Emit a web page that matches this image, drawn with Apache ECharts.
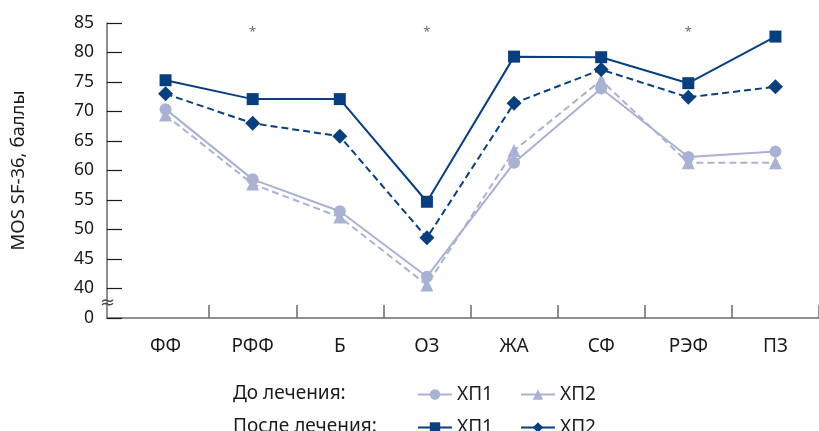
<!DOCTYPE html>
<html>
<head>
<meta charset="utf-8">
<script src="https://cdn.jsdelivr.net/npm/echarts@6/dist/echarts.min.js"></script>
<style>
html,body{margin:0;padding:0;background:#fff;}
#chart{width:819px;height:431px;}
</style>
</head>
<body>
<div id="chart"></div>
<script>
// Categories (SF-36 scales)
var categories = ['ФФ', 'РФФ', 'Б', 'ОЗ', 'ЖА', 'СФ', 'РЭФ', 'ПЗ'];
// Before treatment
var beforeHP1 = [70.4, 58.5, 53.1, 42.0, 61.3, 73.9, 62.3, 63.2];
var beforeHP2 = [69.4, 57.7, 52.1, 40.6, 63.4, 75.3, 61.3, 61.3];
// After treatment
var afterHP1 = [75.3, 72.1, 72.1, 54.7, 79.3, 79.2, 74.8, 82.7];
var afterHP2 = [73.0, 68.0, 65.8, 48.6, 71.4, 77.1, 72.4, 74.2];
// Significance markers
var significance = ['', '*', '', '*', '', '', '*', ''];
// Y tick labels (broken axis: 0, then 40..85)
var yTickLabels = ['0', '40', '45', '50', '55', '60', '65', '70', '75', '80', '85'];
var breakOffset = 35; // values >= 40 are shown shifted down by 35 (axis break)
var starLevel = 83.4;

function toAxis(arr) { return arr.map(function (v) { return v - breakOffset; }); }

var DARK = '#0a3f7f';
var LIGHT = '#aab2d4';
var AXIS = '#6b6b6b';
var TXT = '#1a1a1a';
var FONT = 'Noto Sans';

var chart = echarts.init(document.getElementById('chart'), null, {renderer: 'canvas'});

var starData = significance.map(function (s, i) { return s ? starLevel - breakOffset : null; });

var option = {
  animation: false,
  backgroundColor: '#fff',
  textStyle: {fontFamily: FONT},
  title: [
    {text: 'До лечения:', left: 233, top: 384, textStyle: {fontFamily: FONT, fontSize: 19, fontWeight: 'normal', color: TXT}, padding: 0},
    {text: 'После лечения:', left: 233, top: 417, textStyle: {fontFamily: FONT, fontSize: 19, fontWeight: 'normal', color: TXT}, padding: 0}
  ],
  grid: [
    {left: 107, right: 0, top: 23, bottom: 113},
    {left: 122, right: -12, top: 23, bottom: 113}
  ],
  xAxis: [
    {
      type: 'value', gridIndex: 0, min: 0, max: 1,
      axisLine: {show: true, lineStyle: {color: AXIS, width: 1.5}},
      axisTick: {show: false}, axisLabel: {show: false}, splitLine: {show: false}
    },
    {
      type: 'category', gridIndex: 1, data: categories, boundaryGap: true,
      axisLine: {show: false},
      axisTick: {
        show: true, inside: true, length: 13,
        lineStyle: {color: AXIS, width: 1.5},
        interval: function (index) { return index !== 0; }
      },
      axisLabel: {color: TXT, fontSize: 19, fontFamily: FONT, margin: 19},
      splitLine: {show: false}
    }
  ],
  yAxis: [
    {
      type: 'value', gridIndex: 0, min: 0, max: 50, interval: 5,
      name: 'MOS SF-36, баллы', nameLocation: 'middle', nameGap: 79,
      nameTextStyle: {color: TXT, fontSize: 18.5, fontFamily: FONT},
      axisLine: {show: true, lineStyle: {color: AXIS, width: 1.5}},
      axisTick: {
        show: true, inside: true, length: 15,
        lineStyle: {color: TXT, width: 1.2},
        interval: 0
      },
      axisLabel: {
        color: TXT, fontSize: 17.5, fontFamily: FONT, margin: 13,
        formatter: function (v) { return yTickLabels[Math.round(v / 5)]; }
      },
      splitLine: {show: false}
    },
    {type: 'value', gridIndex: 1, min: 0, max: 50, interval: 5, show: false}
  ],
  legend: [
    {
      data: ['До лечения ХП1', 'До лечения ХП2'],
      left: 417, top: 385, itemWidth: 34, itemHeight: 13, itemGap: 27,
      textStyle: {color: TXT, fontSize: 19, fontFamily: FONT},
      lineStyle: {type: 'solid', width: 2},
      formatter: function (n) { return n.replace('До лечения ', ''); },
      selectedMode: false, padding: 0
    },
    {
      data: ['После лечения ХП1', 'После лечения ХП2'],
      left: 417, top: 418, itemWidth: 34, itemHeight: 13, itemGap: 27,
      textStyle: {color: TXT, fontSize: 19, fontFamily: FONT},
      lineStyle: {type: 'solid', width: 2},
      formatter: function (n) { return n.replace('После лечения ', ''); },
      selectedMode: false, padding: 0
    }
  ],
  graphic: [
    {
      type: 'text', left: 100, top: 294, z: 100,
      style: {text: '≈', fontSize: 18, fill: '#444', fontFamily: 'DejaVu Sans'}
    }
  ],
  series: [
    {
      name: 'До лечения ХП1', type: 'line', xAxisIndex: 1, yAxisIndex: 1,
      data: toAxis(beforeHP1), symbol: 'circle', symbolSize: 12,
      lineStyle: {color: LIGHT, width: 2, type: 'solid'},
      itemStyle: {color: LIGHT}, z: 2
    },
    {
      name: 'До лечения ХП2', type: 'line', xAxisIndex: 1, yAxisIndex: 1,
      data: toAxis(beforeHP2), symbol: 'triangle', symbolSize: 13,
      lineStyle: {color: LIGHT, width: 2, type: [7, 4]},
      itemStyle: {color: LIGHT}, z: 2
    },
    {
      name: 'После лечения ХП1', type: 'line', xAxisIndex: 1, yAxisIndex: 1,
      data: toAxis(afterHP1), symbol: 'rect', symbolSize: 12,
      lineStyle: {color: DARK, width: 2, type: 'solid'},
      itemStyle: {color: DARK}, z: 3
    },
    {
      name: 'После лечения ХП2', type: 'line', xAxisIndex: 1, yAxisIndex: 1,
      data: toAxis(afterHP2), symbol: 'diamond', symbolSize: 15,
      lineStyle: {color: DARK, width: 2, type: [7, 4]},
      itemStyle: {color: DARK}, z: 3
    },
    {
      name: 'stars', type: 'scatter', xAxisIndex: 1, yAxisIndex: 1,
      data: starData, symbolSize: 1, itemStyle: {color: 'rgba(0,0,0,0)'},
      label: {
        show: true, position: 'inside', fontSize: 13, color: '#444', fontFamily: FONT,
        formatter: function (p) { return significance[p.dataIndex]; }
      },
      silent: true
    }
  ]
};
chart.setOption(option);
</script>
</body>
</html>
